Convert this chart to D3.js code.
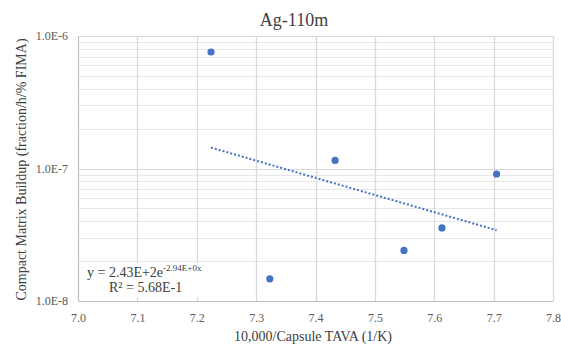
<!DOCTYPE html>
<html>
<head>
<meta charset="utf-8">
<script src="https://cdn.jsdelivr.net/npm/d3@7"></script>
<style>
  body { margin: 0; background: #fff; }
</style>
</head>
<body>
<svg id="chart" width="561" height="346"></svg>
<script>
// data
var tava = [7.224, 7.323, 7.433, 7.549, 7.613, 7.705];
var buildup = [7.57e-7, 1.47e-8, 1.15e-7, 2.41e-8, 3.56e-8, 9.09e-8];
var xTicks = [7.0, 7.1, 7.2, 7.3, 7.4, 7.5, 7.6, 7.7, 7.8];
var yTicks = [1e-8, 1e-7, 1e-6];
var eqText = ["y = 2.43E+2e", "-2.94E+0x"];
var r2Text = "R\u00b2 = 5.68E-1";

var serif = "Liberation Serif";
var svg = d3.select("#chart").attr("font-family", serif);
var margin = {top: 36, right: 8, bottom: 45, left: 78},
    width = 561 - margin.left - margin.right,
    height = 346 - margin.top - margin.bottom;

var x = d3.scaleLinear().domain([7.0, 7.8]).range([0, width]);
var y = d3.scaleLog().domain([1e-8, 1e-6]).range([height, 0]);

var g = svg.append("g")
    .attr("transform", "translate(" + margin.left + "," + margin.top + ")");

// minor horizontal gridlines (2..9 per decade)
var minor = [];
[1e-8, 1e-7].forEach(function(d) {
  for (var k = 2; k <= 9; k++) minor.push(d * k);
});
g.selectAll(".minor")
  .data(minor)
  .enter().append("line")
    .attr("x1", 0).attr("x2", width)
    .attr("y1", function(d) { return Math.round(y(d)) + 0.5; })
    .attr("y2", function(d) { return Math.round(y(d)) + 0.5; })
    .attr("stroke", "#e6e6e6");

g.selectAll(".hmajor")
  .data(yTicks)
  .enter().append("line")
    .attr("x1", 0).attr("x2", width)
    .attr("y1", function(d) { return Math.round(y(d)) + 0.5; })
    .attr("y2", function(d) { return Math.round(y(d)) + 0.5; })
    .attr("stroke", "#d9d9d9");

g.selectAll(".vgrid")
  .data(xTicks)
  .enter().append("line")
    .attr("y1", 0).attr("y2", height)
    .attr("x1", function(d) { return Math.round(x(d)) + 0.5; })
    .attr("x2", function(d) { return Math.round(x(d)) + 0.5; })
    .attr("stroke", "#d9d9d9")
    .attr("stroke-width", 1.3);

// axis lines
g.append("line").attr("x1", 0.5).attr("x2", 0.5).attr("y1", 0).attr("y2", height)
  .attr("stroke", "#bfbfbf");
g.append("line").attr("x1", 0).attr("x2", width).attr("y1", height + 0.5).attr("y2", height + 0.5)
  .attr("stroke", "#bfbfbf");

// tick labels
g.append("g")
    .attr("transform", "translate(0," + height + ")")
    .call(d3.axisBottom(x).tickValues(xTicks).tickSize(0).tickPadding(12)
      .tickFormat(d3.format(".1f")))
    .attr("font-family", serif)
    .attr("font-size", 12)
    .call(function(a) { a.select(".domain").remove(); })
    .selectAll("text")
    .attr("fill", "#595959");

g.append("g")
    .call(d3.axisLeft(y).tickValues(yTicks).tickSize(0).tickPadding(10)
      .tickFormat(function(d) { return "1.0E" + Math.round(Math.log10(d)); }))
    .attr("font-family", serif)
    .attr("font-size", 12)
    .call(function(a) { a.select(".domain").remove(); })
    .selectAll("text")
    .attr("fill", "#595959");

// exponential trendline, least squares on ln(y)
var lx = tava, ly = buildup.map(Math.log);
var mx = d3.mean(lx), my = d3.mean(ly);
var sxy = d3.sum(lx, function(d, i) { return (d - mx) * (ly[i] - my); });
var sxx = d3.sum(lx, function(d) { return (d - mx) * (d - mx); });
var b = sxy / sxx, a = my - b * mx;
var xs = d3.extent(tava);
var trend = d3.range(0, 21).map(function(i) {
  var xv = xs[0] + (xs[1] - xs[0]) * i / 20;
  return [xv, Math.exp(a + b * xv)];
});
g.append("path")
    .datum(trend)
    .attr("fill", "none")
    .attr("stroke", "#4472c4")
    .attr("stroke-width", 2)
    .attr("stroke-dasharray", "2,2")
    .attr("d", d3.line()
      .x(function(d) { return x(d[0]); })
      .y(function(d) { return y(d[1]); }));

// points
g.selectAll(".dot")
  .data(tava)
  .enter().append("circle")
    .attr("cx", function(d) { return x(d); })
    .attr("cy", function(d, i) { return y(buildup[i]); })
    .attr("r", 3.6)
    .attr("fill", "#4472c4");

// equation label
var eq = svg.append("g");
eq.append("rect")
    .attr("x", 84).attr("y", 263).attr("width", 126).attr("height", 34)
    .attr("fill", "#fff");
var t1 = eq.append("text")
    .attr("x", 87).attr("y", 277)
    .attr("font-size", 14)
    .attr("fill", "#404040");
t1.append("tspan").text(eqText[0]);
t1.append("tspan").attr("font-size", 9).attr("dy", -6).text(eqText[1]);
eq.append("text")
    .attr("x", 109).attr("y", 292)
    .attr("font-size", 14)
    .attr("fill", "#404040")
    .text(r2Text);

// titles
svg.append("text")
    .attr("x", 294).attr("y", 26)
    .attr("text-anchor", "middle")
    .attr("font-size", 18)
    .attr("fill", "#404040")
    .text("Ag-110m");

svg.append("text")
    .attr("x", 313).attr("y", 341)
    .attr("text-anchor", "middle")
    .attr("font-size", 14)
    .attr("fill", "#404040")
    .text("10,000/Capsule TAVA (1/K)");

svg.append("text")
    .attr("transform", "translate(26," + (margin.top + height / 2 + 1) + ") rotate(-90)")
    .attr("text-anchor", "middle")
    .attr("font-size", 14)
    .attr("fill", "#404040")
    .text("Compact Matrix Buildup (fraction/h/% FIMA)");
</script>
</body>
</html>
